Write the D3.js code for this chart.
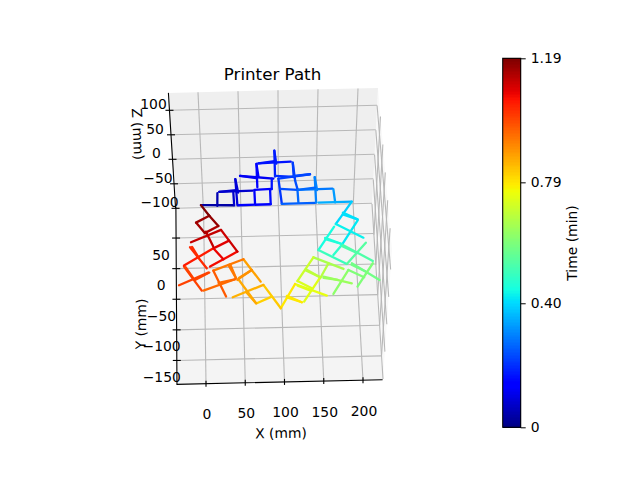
<!DOCTYPE html>
<html>
<head>
    <meta charset="utf-8">
    <title>Printer Path</title>
    <style>
        html, body { margin: 0; padding: 0; background: #fff; }
        svg { display: block; }
        text { font-family: "DejaVu Sans"; fill: #000; }
        .tick-label { font-size: 13.9px; text-anchor: middle; dominant-baseline: central; }
        .axis-title { font-size: 13.9px; text-anchor: middle; dominant-baseline: central; }
        .grid { stroke: #b8b8b8; stroke-width: 1.1px; fill: none; }
        .edge { stroke: #000; stroke-width: 1.1px; fill: none; }
        .seg { stroke-width: 2.3px; stroke-linecap: round; fill: none; }
    </style>
</head>
<body>
<svg id="chart" width="640" height="480"></svg>
<script src="https://cdn.jsdelivr.net/npm/d3@7"></script>
<script>
    // tick values
    const xTicks = [0, 50, 100, 150, 200];
    const yTicks = [50, 0, -50, -100, -150];
    const zTicks = [100, 50, 0, -50, -100];
    const timeTicks = [0, 0.40, 0.79, 1.19];
    const timeLabels = ['0', '0.40', '0.79', '1.19'];

    // printed moves in mm, two points per move: x1, x2 and y1, y2
    const pathX = [
        1, 43, 21.7, 22.3, 43, 42.5, 24.8, 67.1, 45.6, 47.1, 48.4, 89.3,
        69.2, 69.5, 89.1, 89.3, 69.2, 91.2, 51.7, 93.7, 72.9, 73.1, 91.7, 91.2,
        75.4, 116.4, 96.1, 95.9, 96, 120.4, 118.9, 121.1, 100.1, 140.3, 100.1, 103.3,
        103.2, 145.5, 123.7, 124.4, 101.7, 123.7, 123.7, 168, 146.1, 146.8, 169.2, 170.9,
        149.7, 191.9, 121, 124,
        191.9, 180.9, 180.9, 170.8, 180.2, 198.4, 198.8, 178.9, 170.8, 205.2, 168.6, 147.7,
        156.7, 177.6, 147.7, 183.1, 177.5, 166.5, 178.8, 216.1, 208, 183.1, 189.4, 223.8,
        216, 195.6, 184.9, 164.9, 184.9, 204.5, 141.1, 178.7, 141.1, 120, 159.9, 148.8,
        153, 188.6, 131, 148.8, 120, 137.8, 116.8, 156.5, 148.8, 127.5, 116.8, 97.8,
        105.9, 124.6,
        97.8, 76.7, 76.7, 37.4, 86.8, 67.6, 45.3, 66.7, 52.5, 73.4, 62.5, 44,
        52.5, 14, 33.2, 42.4, 14, 29, 41, 0.6, 8.8, -9.6, -23, -1.5,
        7.6, -30, -14.5, 5.7, -22.9, 14.9, 10, 45.2, 14.9, 27.2, 17, 35.1,
        25.4, 45.2, -13.1, 25.4, 6.3, 15, -5.9, 5, -5.9, 11.1, 22.2, 5.9,
        11.1, 22.2, 1, 11.1,
        // repeated passes that make the thick arms
        45.6, 48.6, 72.9, 75, 96.1, 98, 118.9, 119.5, 146.1, 148.5, 51.7, 72,
        24.8, 46, 124, 146, 75.4, 96, 120, 140.3,
        180, 198.4, 157, 177.6, 178, 197, 189, 206, 153, 171, 131, 148.8,
        105.9, 124.6, 120, 137,
        55, 66.7, 62.5, 46, 35.5, 42.4, 41, 20, -12, -4, -21, -12
    ];
    const pathY = [
        103, 101.5, 101.1, 121.9, 101.5, 122.3, 124, 124.7, 144, 101.3, 101.3, 101.6,
        124.6, 102.2, 125.1, 102.1, 125.7, 126.7, 149.3, 143.5, 168.2, 130, 143.6, 126.1,
        169.2, 170.6, 189.2, 146.7, 147.8, 145.3, 168.9, 140.4, 143.3, 149.1, 143.3, 102.8,
        101.6, 102, 125, 103.2, 126.3, 123.9, 123.9, 124.7, 144, 102.5, 123.5, 102.2,
        102.4, 102.6, 140, 124,
        102.5, 83.7, 83.7, 66.6, 84.9, 73.3, 72.1, 34.6, 66.6, 43, 62.2, 24.6,
        44.3, 33.5, 24.6, 0.7, 32, 15.9, 31.9, 4.5, 34.7, 0.7, 1.5, -26.9,
        0.7, -37, -9.3, -47.9, -9.3, -22, 12.9, -7.4, 12.9, -25.2, 2.5, -21.7,
        -19.1, -31.2, -6.4, -20.1, -25.2, -37.7, -30, -50.4, -20.1, -59.2, -30, -69.1,
        -49.2, -60.2,
        -69.1, -30.2, -30.2, -49.1, -49.7, -60, -19.9, -60, 12.6, -24.7, -5.3, -21,
        12.6, -4.8, 3.9, -18.2, -4.8, -47.8, -19.8, -37, -7.8, -19.2, 3.1, -37,
        -7.8, -27.3, 34.5, -0.6, 4.7, 31.8, 2, 25.4, 31.8, 13.4, 32.8, 43.7,
        61.6, 25.4, 42.6, 61.6, 59.4, 34.5, 74.6, 56.7, 74.6, 85.4, 68.2, 57.8,
        85.4, 68.2, 103, 85.4,
        // repeated passes that make the thick arms
        144, 122, 168.2, 147, 189.2, 168, 168.9, 145, 144, 123, 149.3, 145,
        124, 126, 124, 127, 169.2, 172, 147, 149.1,
        82, 73.3, 42, 33.5, 30, 18, -1, -12, -21, -25, -8.5, -20.1,
        -51.5, -60.2, -33, -42,
        -42, -60, -5.3, -18, 5, -18.2, -19.8, -25, 35, 17, 2, -16
    ];
    // time of each move, minutes
    const pathT = [
        0.04, 0.05, 0.08, 0.08, 0.09, 0.13, 0.13, 0.16, 0.14, 0.12, 0.14, 0.17,
        0.17, 0.18, 0.20, 0.22, 0.22, 0.21, 0.26, 0.27, 0.24, 0.29, 0.30, 0.33,
        0.35, 0.24,
        0.39, 0.40, 0.41, 0.42, 0.43, 0.45, 0.46, 0.50, 0.48, 0.53, 0.54, 0.58,
        0.60, 0.62, 0.60, 0.66, 0.71, 0.68, 0.64, 0.69, 0.73, 0.75, 0.74, 0.79,
        0.79,
        0.83, 0.86, 0.82, 0.87, 0.88, 0.90, 0.93, 0.93, 0.97, 0.95, 0.99, 1.00,
        1.00, 1.03, 1.05, 1.07, 1.08, 1.09, 1.11, 1.12, 1.12, 1.15, 1.16, 1.14,
        1.17, 1.19,
        // repeated passes that make the thick arms
        0.09, 0.14, 0.18, 0.22, 0.30, 0.12, 0.08, 0.27, 0.17, 0.23,
        0.41, 0.46, 0.53, 0.58, 0.64, 0.69, 0.79, 0.74,
        0.87, 0.90, 0.93, 0.95, 1.03, 1.00
    ];

    const xLim = [-37, 225], yLim = [-189, 101], zLim = [-100, 135.5];
    const svg = d3.select('#chart');

    // jet colormap, one scale per channel
    const jetR = d3.scaleLinear().domain([0, .35, .66, .89, 1]).range([0, 0, 1, 1, .5]);
    const jetG = d3.scaleLinear().domain([0, .125, .375, .64, .91, 1]).range([0, 0, 1, 1, 0, 0]);
    const jetB = d3.scaleLinear().domain([0, .11, .34, .65, 1]).range([.5, 1, 1, 0, 0]);
    const timeFrac = d3.scaleLinear().domain([0, 1.19]).range([0, 1]).clamp(true);
    const jet = f => d3.rgb(jetR(f) * 255, jetG(f) * 255, jetB(f) * 255).formatRgb();

    // mplot3d view, fitted to the frame. floor is z = bottom, wall is y = back
    const floorX = d3.scaleLinear().domain([0, 200]).range([206, 363]);
    const floorY = d3.scaleLinear().domain([0, 50]).range([268, 237.4]);
    const floorPt = (x, y) => [
        floorX(x) - (0.0085 + 0.00013 * x) * (y - yLim[0]),
        floorY(y) - 0.0175 * x
    ];
    const wallTop = d3.scaleLinear().domain([0, 200]).range([198, 358]);
    const wallBottom = d3.scaleLinear().domain([0, 200]).range([203.3, 353.3]);
    const wallZ = d3.scaleLinear().domain([0, 100]).range([159.3, 110.3]);
    const wallPt = (x, z) => {
        const f = (z - zLim[0]) / (zLim[1] - zLim[0]);
        return [wallBottom(x) + (wallTop(x) - wallBottom(x)) * f, wallZ(z) - 0.019 * (x - xLim[0])];
    };
    const sideBackX = d3.scaleLinear().domain(zLim).range([372, 378]);
    const sideBackY = d3.scaleLinear().domain(zLim).range([204, 88]);
    const sideFrontX = d3.scaleLinear().domain(zLim).range([383, 392]);
    const sideFrontY = d3.scaleLinear().domain(zLim).range([379, 250]);
    const sidePt = (y, z) => {
        const f = (yLim[1] - y) / (yLim[1] - yLim[0]);
        return [
            sideBackX(z) + (sideFrontX(z) - sideBackX(z)) * f,
            sideBackY(z) + (sideFrontY(z) - sideBackY(z)) * f
        ];
    };
    // path plane sits slightly off the floor
    const pathPt = (x, y) => [202.2 + 0.79 * x - 0.02 * y, 268 - 0.61 * y - 0.02 * x];

    const line = d3.line();
    const poly = pts => line(pts) + 'Z';
    const plot = svg.append('g');

    // panes
    plot.append('path').attr('d', poly([sidePt(yLim[1], zLim[0]), sidePt(yLim[1], zLim[1]), sidePt(yLim[0], zLim[1]), sidePt(yLim[0], zLim[0])])).attr('fill', '#f9f9f9');
    plot.append('path').attr('d', poly([wallPt(xLim[0], zLim[0]), wallPt(xLim[0], zLim[1]), wallPt(xLim[1], zLim[1]), wallPt(xLim[1], zLim[0])])).attr('fill', '#efefef');
    plot.append('path').attr('d', poly([floorPt(xLim[0], yLim[0]), floorPt(xLim[0], yLim[1]), floorPt(xLim[1], yLim[1]), floorPt(xLim[1], yLim[0])])).attr('fill', '#f4f4f4');

    // grid lines
    const grid = plot.append('g').attr('class', 'grid');
    zTicks.forEach(z => {
        grid.append('path').attr('d', line([wallPt(xLim[0], z), wallPt(xLim[1], z)]));
        grid.append('path').attr('d', line([sidePt(yLim[1], z), sidePt(yLim[0], z)]));
    });
    xTicks.forEach(x => {
        grid.append('path').attr('d', line([wallPt(x, zLim[0]), wallPt(x, zLim[1])]));
        grid.append('path').attr('d', line([floorPt(x, yLim[0]), floorPt(x, yLim[1])]));
    });
    yTicks.forEach(y => {
        grid.append('path').attr('d', line([floorPt(xLim[0], y), floorPt(xLim[1], y)]));
        grid.append('path').attr('d', line([sidePt(y, zLim[0]), sidePt(y, zLim[1])]));
    });

    // axis lines
    const edges = plot.append('g').attr('class', 'edge');
    edges.append('path').attr('d', line([wallPt(xLim[0], zLim[1]), wallPt(xLim[0], zLim[0])]));
    edges.append('path').attr('d', line([floorPt(xLim[0], yLim[1]), floorPt(xLim[0], yLim[0]), floorPt(xLim[1], yLim[0])]));

    // ticks and tick labels
    const fmt = v => String(v).replace('-', '\u2212');
    xTicks.forEach(x => {
        const p = floorPt(x, yLim[0]);
        edges.append('path').attr('d', line([[p[0], p[1] - 3], [p[0], p[1] + 3]]));
        plot.append('text').attr('class', 'tick-label').attr('x', p[0] + 1).attr('y', p[1] + 30.5).text(fmt(x));
    });
    yTicks.forEach(y => {
        const p = floorPt(xLim[0], y);
        edges.append('path').attr('d', line([[p[0] - 4, p[1]], [p[0] + 4, p[1]]]));
        plot.append('text').attr('class', 'tick-label').attr('x', p[0] - 15).attr('y', p[1] + 16.5).text(fmt(y));
    });
    zTicks.forEach(z => {
        const p = wallPt(xLim[0], z);
        edges.append('path').attr('d', line([[p[0] - 4, p[1]], [p[0] + 4, p[1]]]));
        plot.append('text').attr('class', 'tick-label').attr('x', p[0] - 16).attr('y', p[1] - 6).text(fmt(z));
    });

    // printer path, drawn in time order
    plot.append('g').selectAll('line')
        .data(pathT.map((t, i) => ({ t, a: pathPt(pathX[2 * i], pathY[2 * i]), b: pathPt(pathX[2 * i + 1], pathY[2 * i + 1]) })))
        .join('line')
        .attr('class', 'seg')
        .attr('x1', d => d.a[0]).attr('y1', d => d.a[1])
        .attr('x2', d => d.b[0]).attr('y2', d => d.b[1])
        .attr('stroke', d => jet(timeFrac(d.t)));

    // titles
    svg.append('text').attr('x', 272.5).attr('y', 74).attr('text-anchor', 'middle').attr('dominant-baseline', 'central').style('font-size', '16.7px').text('Printer Path');
    svg.append('text').attr('class', 'axis-title').attr('transform', 'translate(281,433) rotate(-1)').text('X (mm)');
    svg.append('text').attr('class', 'axis-title').attr('transform', 'translate(141,324) rotate(-89)').text('Y (mm)');
    svg.append('text').attr('class', 'axis-title').attr('transform', 'translate(138,134) rotate(87)').text('Z (mm)');

    // colorbar
    const barY = d3.scaleLinear().domain([0, 1.19]).range([427.3, 58.3]);
    const bar = svg.append('g').attr('shape-rendering', 'crispEdges');
    const steps = d3.range(256);
    bar.selectAll('rect').data(steps).join('rect')
        .attr('x', 502.7).attr('width', 18)
        .attr('y', s => barY((s + 1) / 256 * 1.19))
        .attr('height', s => barY(s / 256 * 1.19) - barY((s + 1) / 256 * 1.19) + 1)
        .attr('fill', s => jet((s + 0.5) / 256));
    svg.append('rect').attr('x', 502.7).attr('y', 58.3).attr('width', 18).attr('height', 369)
        .attr('fill', 'none').attr('stroke', '#000').attr('stroke-width', 1.1);
    const barAxis = d3.axisRight(barY).tickValues(timeTicks).tickSize(5).tickPadding(5)
        .tickFormat((d, i) => timeLabels[i]);
    const axisG = svg.append('g').attr('transform', 'translate(520.7,0)').call(barAxis);
    axisG.select('.domain').remove();
    axisG.selectAll('text').style('font-size', '13.9px').style('font-family', '"DejaVu Sans"');
    svg.append('text').attr('class', 'axis-title').attr('transform', 'translate(572,243) rotate(-90)').text('Time (min)');
</script>
</body>
</html>
